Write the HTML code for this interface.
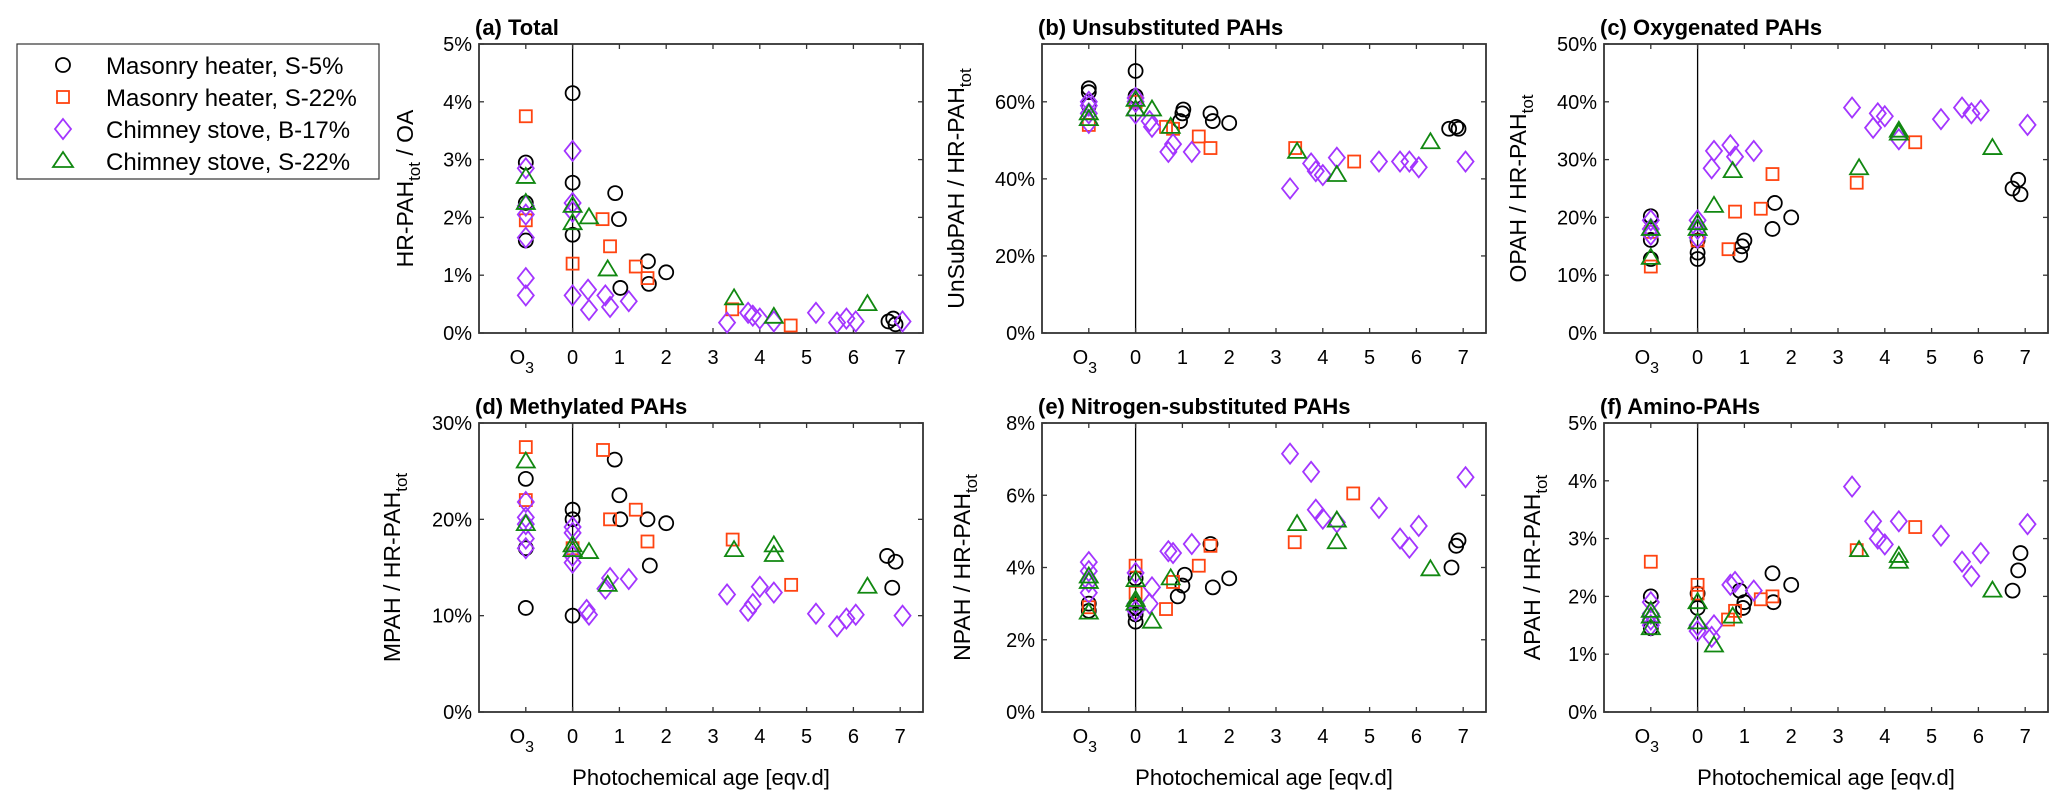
<!DOCTYPE html>
<html><head><meta charset="utf-8">
<style>
html,body{margin:0;padding:0;background:#fff;}
svg{display:block;font-family:"Liberation Sans",Arial,sans-serif;}
</style></head>
<body>
<svg id="fig" width="2067" height="808" viewBox="0 0 2067 808" xmlns="http://www.w3.org/2000/svg">
  <g id="legend">
    <rect x="17" y="44" width="362" height="135" fill="#fff" stroke="#333" stroke-width="1.2"/>
    <circle cx="63" cy="65" r="7" fill="none" stroke="#000" stroke-width="1.8"/>
    <text x="106" y="74" font-size="24">Masonry heater, S-5%</text>
    <rect x="57" y="91" width="12" height="12" fill="none" stroke="#ff4411" stroke-width="1.8"/>
    <text x="106" y="106" font-size="24">Masonry heater, S-22%</text>
    <polygon points="63,119 71,129 63,139 55,129" fill="none" stroke="#a335ff" stroke-width="1.8"/>
    <text x="106" y="138" font-size="24">Chimney stove, B-17%</text>
    <polygon points="63,152 73,167 53,167" fill="none" stroke="#118811" stroke-width="1.8"/>
    <text x="106" y="170" font-size="24">Chimney stove, S-22%</text>
  </g>
</svg>
<script>
const xTickValues = [-1,0,1,2,3,4,5,6,7];
const xTickLabels = ["O3","0","1","2","3","4","5","6","7"];

const aCirc = [[-1,2.95],[-1,2.25],[-1,1.6],[0,4.15],[0,2.6],[0,1.7],[0.91,2.42],[0.99,1.97],[1.02,0.78],[1.61,1.24],[1.63,0.85],[2.0,1.05],[6.75,0.2],[6.85,0.25],[6.9,0.15]];
const aSq = [[-1,3.75],[-1,1.95],[0,1.2],[0.64,1.97],[0.8,1.5],[1.35,1.15],[1.6,0.95],[3.41,0.41],[4.66,0.13]];
const aDia = [[-1,2.85],[-1,2.2],[-1,2.05],[-1,1.65],[-1,0.95],[-1,0.65],[0,3.15],[0,2.25],[0,2.1],[0,0.65],[0.33,0.75],[0.35,0.4],[0.7,0.65],[0.8,0.45],[1.2,0.55],[3.3,0.18],[3.75,0.35],[3.85,0.3],[4.0,0.25],[4.3,0.2],[5.2,0.35],[5.65,0.18],[5.85,0.25],[6.05,0.2],[7.05,0.2]];
const aTri = [[-1,2.7],[-1,2.25],[0,2.2],[0,1.9],[0.35,2.0],[0.75,1.1],[3.45,0.6],[4.3,0.28],[6.3,0.5]];

const bCirc = [[-1,63.5],[-1,62.5],[-1,59],[0,68],[0,61.5],[0.95,55],[1.0,57],[1.02,58],[1.6,57],[1.65,55],[2.0,54.5],[6.7,53],[6.85,53.5],[6.9,53]];
const bSq = [[-1,54],[0,60],[0.65,53.5],[0.8,53],[1.35,51],[1.6,48],[3.41,48],[4.67,44.5]];
const bDia = [[-1,60],[-1,59],[-1,57],[-1,54.5],[0,61],[0,60],[0,57],[0.3,55],[0.35,53.5],[0.7,47],[0.8,49],[1.2,47],[3.3,37.5],[3.75,44],[3.85,42],[4.0,41],[4.3,45.5],[5.2,44.5],[5.65,44.5],[5.85,44.5],[6.05,43],[7.05,44.5]];
const bTri = [[-1,57],[-1,55.5],[0,60.5],[0,58],[0.35,58],[0.75,53.5],[3.45,47],[4.3,41],[6.3,49.5]];

const cCirc = [[-1,20.2],[-1,16.1],[-1,12.8],[0,16],[0,13.9],[0,12.8],[0.91,13.5],[0.95,15],[1.0,16],[1.6,18],[1.65,22.5],[2.0,20],[6.73,25],[6.85,26.5],[6.9,24]];
const cSq = [[-1,11.5],[-1,17.5],[0,16],[0.66,14.5],[0.8,21],[1.35,21.5],[1.6,27.5],[3.4,26],[4.65,33]];
const cDia = [[-1,19.5],[-1,18],[-1,17],[0,19.5],[0,18],[0,16.5],[0.3,28.5],[0.35,31.5],[0.7,32.5],[0.8,30.5],[1.2,31.5],[3.3,39],[3.75,35.5],[3.85,38],[4.0,37.5],[4.3,33.5],[5.2,37],[5.65,39],[5.85,38],[6.05,38.5],[7.05,36]];
const cTri = [[-1,18],[-1,13],[0,19],[0,18],[0.35,22],[0.75,28],[3.45,28.5],[4.3,34.5],[4.3,35],[6.3,32]];

const dCirc = [[-1,24.2],[-1,17],[-1,10.8],[0,21],[0,20],[0,10],[0.9,26.2],[1.0,22.5],[1.02,20],[1.6,20],[1.65,15.2],[2.0,19.6],[6.72,16.2],[6.9,15.6],[6.83,12.9]];
const dSq = [[-1,27.5],[-1,22],[0,17],[0.65,27.2],[0.8,20],[1.35,21],[1.6,17.7],[3.42,17.9],[4.67,13.2]];
const dDia = [[-1,21.8],[-1,20.2],[-1,19.5],[-1,18],[-1,17],[0,19.2],[0,18.6],[0,16.2],[0,15.5],[0.3,10.6],[0.35,10.1],[0.7,12.8],[0.8,13.9],[1.2,13.8],[3.3,12.2],[3.75,10.5],[3.85,11.2],[4.0,13],[4.3,12.4],[5.2,10.2],[5.65,8.9],[5.85,9.7],[6.05,10.1],[7.05,10]];
const dTri = [[-1,26],[-1,19.5],[0,17.3],[0,16.8],[0.35,16.6],[0.75,13.2],[3.45,16.8],[4.3,17.3],[4.3,16.3],[6.3,13]];

const eCirc = [[-1,3.0],[-1,2.8],[0,3.7],[0,2.9],[0,2.7],[0,2.5],[0.9,3.2],[1.0,3.5],[1.05,3.8],[1.6,4.65],[1.65,3.45],[2.0,3.7],[6.75,4.0],[6.85,4.6],[6.9,4.75]];
const eSq = [[-1,2.9],[0,4.05],[0,3.3],[0.65,2.85],[0.8,3.6],[1.35,4.05],[1.6,4.6],[3.4,4.7],[4.65,6.05]];
const eDia = [[-1,4.15],[-1,3.9],[-1,3.6],[-1,3.3],[0,3.85],[0,3.0],[0,2.8],[0.3,3.0],[0.35,3.45],[0.7,4.45],[0.8,4.4],[1.2,4.65],[3.3,7.15],[3.75,6.65],[3.85,5.6],[4.0,5.35],[4.3,5.25],[5.2,5.65],[5.65,4.8],[5.85,4.55],[6.05,5.15],[7.05,6.5]];
const eTri = [[-1,3.75],[-1,3.6],[-1,2.75],[0,3.65],[0,3.1],[0,3.0],[0.35,2.5],[0.75,3.7],[3.45,5.2],[4.3,5.3],[4.3,4.7],[6.3,3.95]];

const fCirc = [[-1,2.0],[-1,1.45],[0,2.05],[0,1.8],[0.9,2.1],[1.0,1.9],[0.97,1.8],[1.6,2.4],[1.62,1.9],[2.0,2.2],[6.73,2.1],[6.85,2.45],[6.9,2.75]];
const fSq = [[-1,2.6],[0,2.2],[0,2.05],[0.65,1.6],[0.8,1.75],[1.35,1.95],[1.6,2.0],[3.4,2.8],[4.65,3.2]];
const fDia = [[-1,1.9],[-1,1.7],[-1,1.6],[-1,1.5],[0,1.5],[0,1.4],[0.3,1.3],[0.35,1.5],[0.7,2.2],[0.8,2.25],[1.2,2.1],[3.3,3.9],[3.75,3.3],[3.85,3.0],[4.0,2.9],[4.3,3.3],[5.2,3.05],[5.65,2.6],[5.85,2.35],[6.05,2.75],[7.05,3.25]];
const fTri = [[-1,1.75],[-1,1.65],[-1,1.45],[0,1.9],[0,1.55],[0.35,1.15],[0.75,1.65],[3.45,2.8],[4.3,2.7],[4.3,2.6],[6.3,2.1]];

const yMaxes = [5,75,50,30,8,5];
const yTickSteps = [1,20,10,10,2,1];
const titles = ["(a) Total","(b) Unsubstituted PAHs","(c) Oxygenated PAHs","(d) Methylated PAHs","(e) Nitrogen-substituted PAHs","(f) Amino-PAHs"];
const yLabelPre = ["HR-PAH","UnSubPAH / HR-PAH","OPAH / HR-PAH","MPAH / HR-PAH","NPAH / HR-PAH","APAH / HR-PAH"];
const yLabelPost = [" / OA","","","","",""];

const NS = "http://www.w3.org/2000/svg";
const svg = document.getElementById('fig');
const lefts = [479,1042,1604], tops = [44,423];
const PW = 444, PH = 289, UNIT = 46.8;
const ylabOff = [66,78,78,79,72,64];
const seriesColor = {circ:"#000", sq:"#ff4411", dia:"#a335ff", tri:"#118811"};

function mk(tag, attrs, parent){
  const e = document.createElementNS(NS, tag);
  for (const k in attrs) e.setAttribute(k, attrs[k]);
  (parent||svg).appendChild(e);
  return e;
}

const panelData = [
  {circ:aCirc, sq:aSq, dia:aDia, tri:aTri},
  {circ:bCirc, sq:bSq, dia:bDia, tri:bTri},
  {circ:cCirc, sq:cSq, dia:cDia, tri:cTri},
  {circ:dCirc, sq:dSq, dia:dDia, tri:dTri},
  {circ:eCirc, sq:eSq, dia:eDia, tri:eTri},
  {circ:fCirc, sq:fSq, dia:fDia, tri:fTri}
];
const panelKeys = ["a","b","c","d","e","f"];

function drawPanel(i){
  const L = lefts[i%3], T = tops[Math.floor(i/3)], B = T+PH, R = L+PW;
  const ymax = yMaxes[i], step = yTickSteps[i];
  const xs = v => L + (v+2)*UNIT;
  const ys = v => B - v/ymax*PH;
  const g = mk('g', {});
  
  

  const t = mk('text', {x:L-4, y:T-9, 'font-size':22, 'font-weight':'bold'}, g);
  t.textContent = titles[i];
  
  

  const zl = mk('line', {x1:xs(0), x2:xs(0), y1:T, y2:B, stroke:'#000', 'stroke-width':1.3}, g);
  
  

  xTickValues.forEach((v,k)=>{
    const x = xs(v);
    mk('line',{x1:x,x2:x,y1:B,y2:B-5,stroke:'#333','stroke-width':1.3},g);
    mk('line',{x1:x,x2:x,y1:T,y2:T+5,stroke:'#333','stroke-width':1.3},g);
    const tx = mk('text',{x:x,y:B+31,'font-size':20,'text-anchor':'middle'},g);
    
    
    if (xTickLabels[k]==="O3"){
      tx.setAttribute('x', x-4);
      tx.textContent = "O";
      const s = mk('tspan',{'font-size':16,dy:9},tx); s.textContent="3";
    } else tx.textContent = xTickLabels[k];
  });
  for (let v=0; v<=ymax+1e-9; v+=step){
    const y = ys(v);
    mk('line',{x1:L,x2:L+5,y1:y,y2:y,stroke:'#333','stroke-width':1.3},g);
    mk('line',{x1:R,x2:R-5,y1:y,y2:y,stroke:'#333','stroke-width':1.3},g);
    const ty = mk('text',{x:L-7,y:y+7,'font-size':20,'text-anchor':'end'},g);
    ty.textContent = v + "%";
    
    
  }
  const fr = mk('rect',{x:L,y:T,width:PW,height:PH,fill:'none',stroke:'#333','stroke-width':1.8},g);
  
  

  const cx = L - ylabOff[i], cy = T + PH/2;
  const yl = mk('text',{x:cx,y:cy,'font-size':23,'text-anchor':'middle',transform:`rotate(-90 ${cx} ${cy})`},g);
  
  
  const t1 = mk('tspan',{},yl); t1.textContent = yLabelPre[i];
  const t2 = mk('tspan',{'font-size':17,dy:7},yl); t2.textContent = "tot";
  if (yLabelPost[i]) { const t3 = mk('tspan',{dy:-7},yl); t3.textContent = yLabelPost[i]; }

  if (i>=3){
    const xl = mk('text',{x:L+PW/2,y:785,'font-size':22,'text-anchor':'middle'},g);
    xl.textContent = "Photochemical age [eqv.d]";
    
    
  }

  const d = panelData[i];
  d.circ.forEach(p=>{
    const m = mk('circle',{cx:xs(p[0]),cy:ys(p[1]),r:7,fill:'none',stroke:seriesColor.circ,'stroke-width':1.8},g);
    
    
  });
  d.sq.forEach(p=>{
    const x=xs(p[0]), y=ys(p[1]);
    const m = mk('rect',{x:x-6,y:y-6,width:12,height:12,fill:'none',stroke:seriesColor.sq,'stroke-width':1.8},g);
    
    
  });
  d.dia.forEach(p=>{
    const x=xs(p[0]), y=ys(p[1]);
    const m = mk('polygon',{points:`${x},${y-10} ${x+8},${y} ${x},${y+10} ${x-8},${y}`,fill:'none',stroke:seriesColor.dia,'stroke-width':1.8},g);
    
    
  });
  d.tri.forEach(p=>{
    const x=xs(p[0]), y=ys(p[1]);
    const m = mk('polygon',{points:`${x},${y-9} ${x+9},${y+6} ${x-9},${y+6}`,fill:'none',stroke:seriesColor.tri,'stroke-width':1.8},g);
    
    
  });
}
for (let i=0;i<6;i++) drawPanel(i);
</script>
</body></html>
